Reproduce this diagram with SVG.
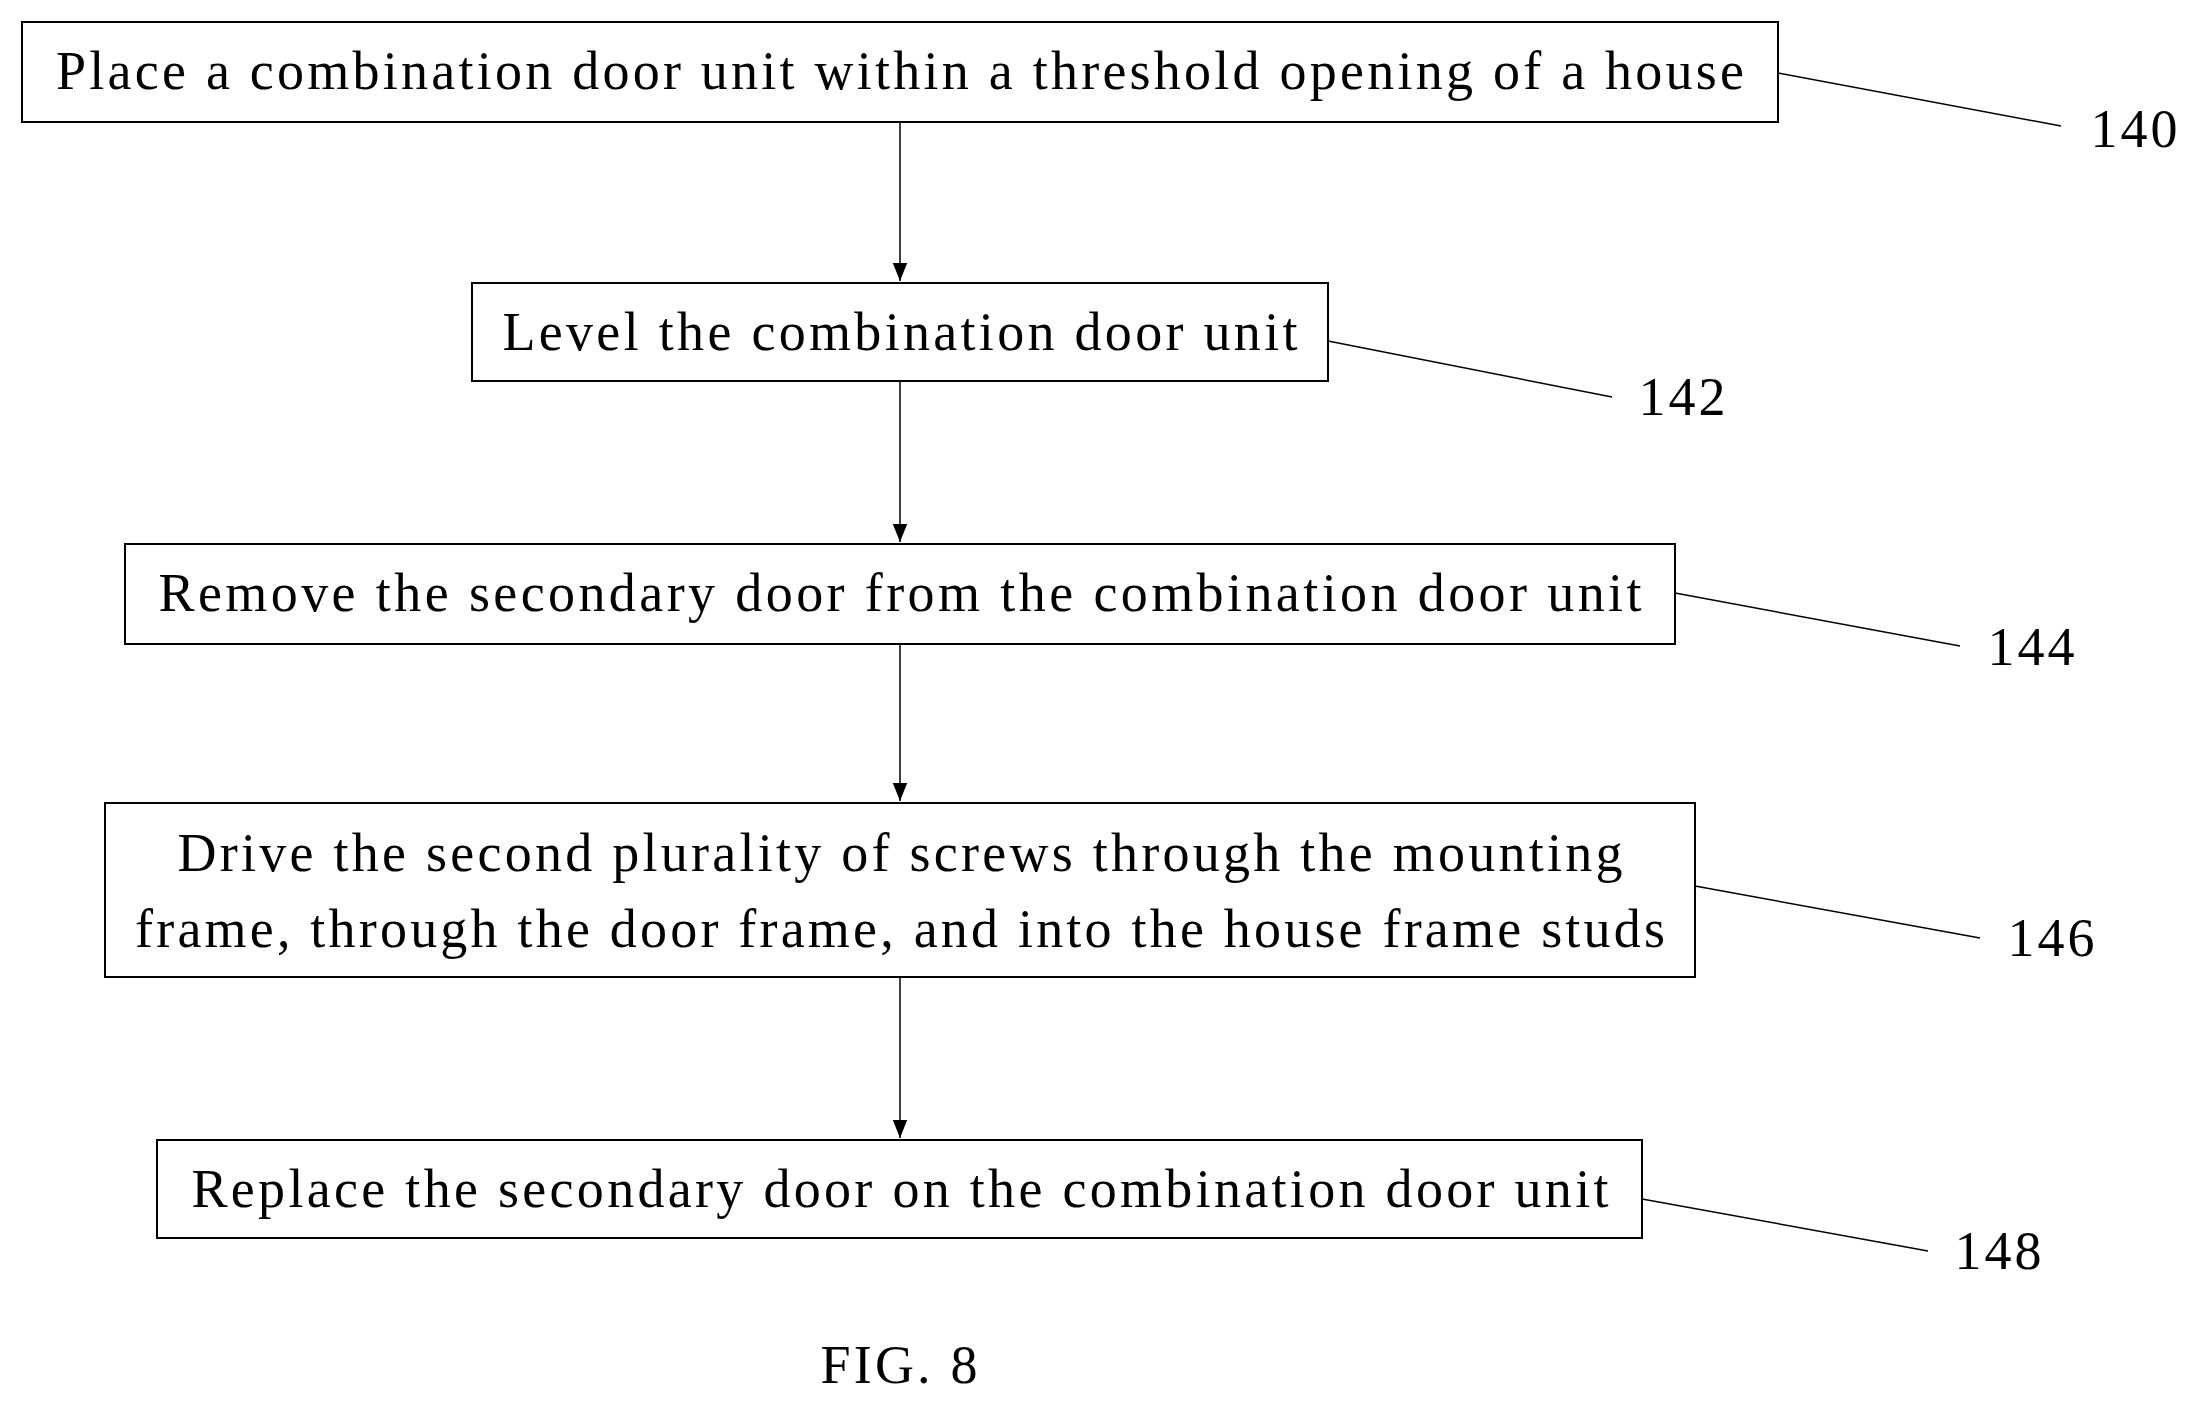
<svg xmlns="http://www.w3.org/2000/svg" width="2198" height="1406" viewBox="0 0 2198 1406">
<style>
.b{fill:#fff;stroke:#000;stroke-width:2}
.t{font-family:"Liberation Serif",serif;font-size:54px;text-anchor:middle;fill:#000}
.l{stroke:#000;stroke-width:1.5;fill:none}
</style>
<defs>
<marker id="ah" viewBox="0 0 10 10" refX="10" refY="5" markerWidth="18" markerHeight="18" markerUnits="userSpaceOnUse" orient="auto"><path d="M0,1L10,5L0,9z"/></marker></defs>
<rect width="2198" height="1406" fill="#fff"/>
<g id="connectors">
<line class="l" x1="900" y1="122" x2="900" y2="281" marker-end="url(#ah)"/>
<line class="l" x1="900" y1="381" x2="900" y2="542" marker-end="url(#ah)"/>
<line class="l" x1="900" y1="644" x2="900" y2="801" marker-end="url(#ah)"/>
<line class="l" x1="900" y1="977" x2="900" y2="1138" marker-end="url(#ah)"/>
<line class="l" x1="1778" y1="73" x2="2061" y2="126"/>
<line class="l" x1="1328" y1="341" x2="1612" y2="397"/>
<line class="l" x1="1675" y1="593" x2="1960" y2="646"/>
<line class="l" x1="1695" y1="886" x2="1980" y2="938"/>
<line class="l" x1="1642" y1="1199" x2="1928" y2="1251"/>
</g>
<g id="n140"><rect class="b" x="22" y="22" width="1756" height="100"/><text class="t" x="900" y="89" textLength="1688" lengthAdjust="spacing">Place a combination door unit within a threshold opening of a house</text><text class="t" x="2134" y="147" textLength="87" lengthAdjust="spacing">140</text></g>
<g id="n142"><rect class="b" x="472" y="283" width="856" height="98"/><text class="t" x="900" y="350" textLength="795" lengthAdjust="spacing">Level the combination door unit</text><text class="t" x="1682" y="415" textLength="87" lengthAdjust="spacing">142</text></g>
<g id="n144"><rect class="b" x="125" y="544" width="1550" height="100"/><text class="t" x="900" y="611" textLength="1483" lengthAdjust="spacing">Remove the secondary door from the combination door unit</text><text class="t" x="2031" y="665" textLength="87" lengthAdjust="spacing">144</text></g>
<g id="n146"><rect class="b" x="105" y="803" width="1590" height="174"/><text class="t" x="900" y="871" textLength="1445" lengthAdjust="spacing">Drive the second plurality of screws through the mounting</text><text class="t" x="900" y="947" textLength="1530" lengthAdjust="spacing">frame, through the door frame, and into the house frame studs</text><text class="t" x="2051" y="956" textLength="87" lengthAdjust="spacing">146</text></g>
<g id="n148"><rect class="b" x="157" y="1140" width="1485" height="98"/><text class="t" x="900" y="1207" textLength="1417" lengthAdjust="spacing">Replace the secondary door on the combination door unit</text><text class="t" x="1998" y="1269" textLength="87" lengthAdjust="spacing">148</text></g>
<text class="t" x="899" y="1383" textLength="157" lengthAdjust="spacing">FIG. 8</text>
</svg>
